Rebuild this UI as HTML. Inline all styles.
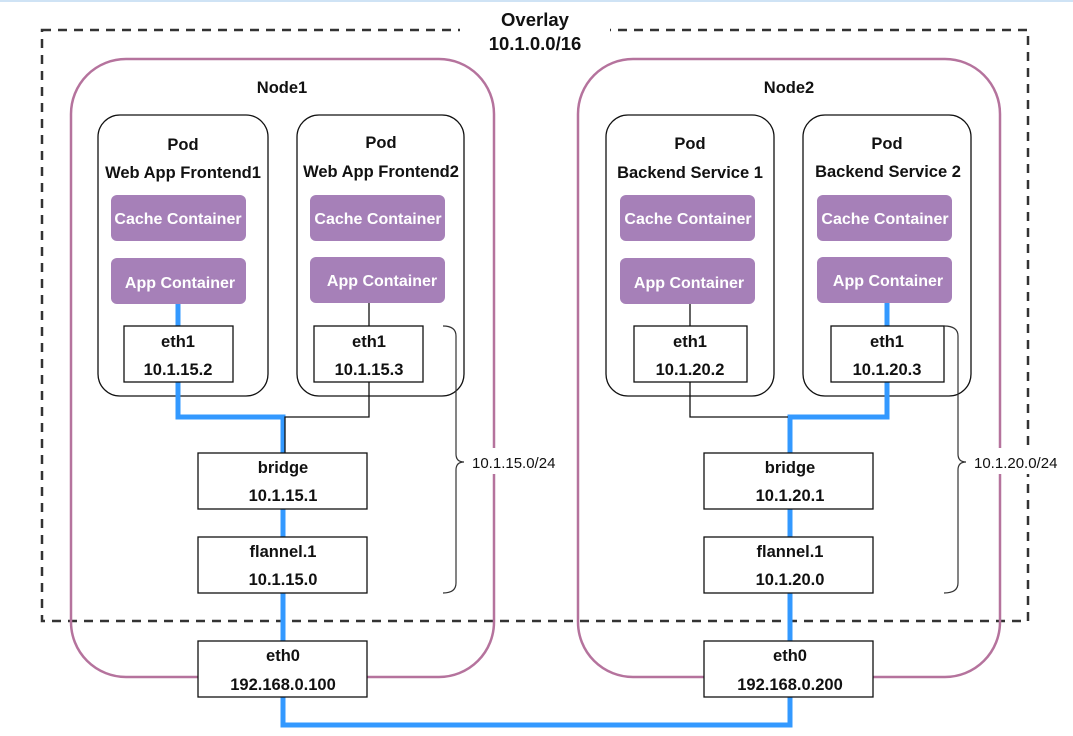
<!DOCTYPE html>
<html><head><meta charset="utf-8"><style>
html,body{margin:0;padding:0;background:#fff;}
svg text{font-family:"Liberation Sans",Arial,sans-serif;font-size:16.5px;fill:#111;text-anchor:middle;}
.b{font-weight:bold;}
.w{fill:#fff;font-weight:bold;font-size:16px;}
</style></head><body>
<svg width="1073" height="731" viewBox="0 0 1073 731" xmlns="http://www.w3.org/2000/svg">
<rect x="0" y="0" width="1073" height="2" fill="#cfe3f5"/>
<rect x="42" y="30" width="986" height="591" fill="none" stroke="#333" stroke-width="2.5" stroke-dasharray="9,7"/>
<rect x="460" y="8" width="150" height="48" fill="#fff"/>
<text x="535" y="26" class="b" style="font-size:18.5px">Overlay</text>
<text x="535" y="50" class="b" style="font-size:18.5px">10.1.0.0/16</text>
<rect x="71" y="59" width="423" height="618" rx="55" fill="none" stroke="#b5739d" stroke-width="2.5"/>
<rect x="578" y="59" width="422" height="618" rx="55" fill="none" stroke="#b5739d" stroke-width="2.5"/>
<text x="282" y="93" class="b">Node1</text>
<text x="789" y="93" class="b">Node2</text>
<g fill="#fff" stroke="#111" stroke-width="1.3">
<rect x="98" y="115" width="170" height="281" rx="22"/>
<rect x="297" y="115" width="167" height="281" rx="22"/>
<rect x="606" y="115" width="168" height="281" rx="22"/>
<rect x="803" y="115" width="168" height="281" rx="22"/>
</g>
<text x="183" y="150" class="b">Pod</text><text x="183" y="178" class="b">Web App Frontend1</text>
<text x="381" y="148" class="b">Pod</text><text x="381" y="177" class="b">Web App Frontend2</text>
<text x="690" y="149" class="b">Pod</text><text x="690" y="178" class="b">Backend Service 1</text>
<text x="887" y="149" class="b">Pod</text><text x="888" y="177" class="b">Backend Service 2</text>
<g fill="#a680b8">
<rect x="111" y="195" width="135" height="46" rx="6"/><rect x="111" y="258" width="135" height="46" rx="6"/>
<rect x="310" y="195" width="135" height="46" rx="6"/><rect x="310" y="257" width="135" height="46" rx="6"/>
<rect x="620" y="195" width="135" height="46" rx="6"/><rect x="620" y="258" width="135" height="46" rx="6"/>
<rect x="817" y="195" width="135" height="46" rx="6"/><rect x="817" y="257" width="135" height="46" rx="6"/>
</g>
<text x="178" y="224" class="w">Cache Container</text><text x="180" y="288" class="w">App Container</text>
<text x="378" y="224" class="w">Cache Container</text><text x="382" y="286" class="w">App Container</text>
<text x="688" y="224" class="w">Cache Container</text><text x="689" y="288" class="w">App Container</text>
<text x="885" y="224" class="w">Cache Container</text><text x="888" y="286" class="w">App Container</text>
<g fill="none" stroke="#3399ff" stroke-width="5">
<path d="M178 304 V326 M178 382 V417 H283 V453 M283 509 V537 M283 593 V641 M283 697 V725 H790 V697 M790 641 V593 M790 537 V509 M790 453 V417 H887 V382 M887 303 V326"/>
</g>
<g fill="none" stroke="#111" stroke-width="1.3">
<path d="M369 303 V326 M369 382 V417 H285 V453 M690 304 V326 M690 382 V417 H788"/>
</g>
<g fill="#fff" stroke="#111" stroke-width="1.3">
<rect x="124" y="326" width="109" height="56"/><rect x="314" y="326" width="109" height="56"/>
<rect x="634" y="326" width="113" height="56"/><rect x="831" y="326" width="113" height="56"/>
<rect x="198" y="453" width="169" height="56"/><rect x="198" y="537" width="169" height="56"/><rect x="198" y="641" width="169" height="56"/>
<rect x="704" y="453" width="169" height="56"/><rect x="704" y="537" width="169" height="56"/><rect x="704" y="641" width="169" height="56"/>
</g>
<text x="178" y="347" class="b">eth1</text><text x="178" y="375" class="b">10.1.15.2</text>
<text x="369" y="347" class="b">eth1</text><text x="369" y="375" class="b">10.1.15.3</text>
<text x="690" y="347" class="b">eth1</text><text x="690" y="375" class="b">10.1.20.2</text>
<text x="887" y="347" class="b">eth1</text><text x="887" y="375" class="b">10.1.20.3</text>
<text x="283" y="473" class="b">bridge</text><text x="283" y="501" class="b">10.1.15.1</text>
<text x="283" y="557" class="b">flannel.1</text><text x="283" y="585" class="b">10.1.15.0</text>
<text x="283" y="661" class="b">eth0</text><text x="283" y="690" class="b">192.168.0.100</text>
<text x="790" y="473" class="b">bridge</text><text x="790" y="501" class="b">10.1.20.1</text>
<text x="790" y="557" class="b">flannel.1</text><text x="790" y="585" class="b">10.1.20.0</text>
<text x="790" y="661" class="b">eth0</text><text x="790" y="690" class="b">192.168.0.200</text>
<g fill="none" stroke="#333" stroke-width="1.2">
<path d="M443 326 Q456 326 456 336 V454 Q456 462 464 462 Q456 462 456 470 V583 Q456 593 443 593"/>
<path d="M944 326 Q958 326 958 336 V454 Q958 462 966 462 Q958 462 958 470 V583 Q958 593 944 593"/>
</g>
<rect x="470" y="448" width="90" height="26" fill="#fff"/>
<rect x="972" y="448" width="96" height="26" fill="#fff"/>
<text x="472" y="468" style="text-anchor:start;font-size:15px">10.1.15.0/24</text>
<text x="974" y="468" style="text-anchor:start;font-size:15px">10.1.20.0/24</text>
</svg>
</body></html>
